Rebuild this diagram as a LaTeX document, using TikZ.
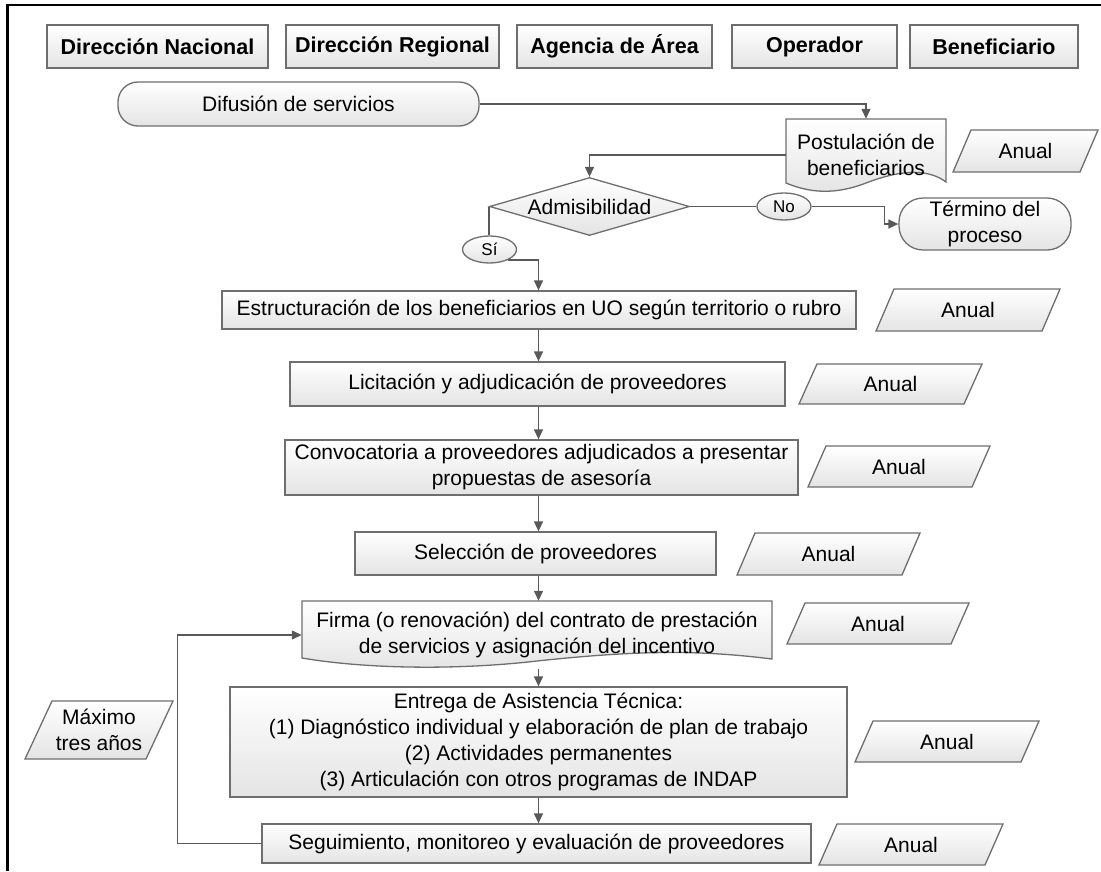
\documentclass[tikz,border=0pt]{standalone}
\usepackage{fontspec}
\setmainfont{Liberation Sans}
\usetikzlibrary{arrows.meta,shapes.geometric,calc}
\definecolor{bord}{HTML}{6E6E6E}
\definecolor{arrc}{HTML}{595959}
\definecolor{fillbot}{HTML}{E4E4E4}
\newcommand{\fsmain}{\fontsize{21}{26}\selectfont}
\newcommand{\fshdr}{\fontsize{21.5}{26}\selectfont\bfseries}
\newcommand{\fssmall}{\fontsize{17}{20}\selectfont}
\newcommand{\anualbox}[5]{%
  \path[shp] (#2,#5) -- ({#2+18},#4) -- (#3,#4) -- ({#3-18},#5) -- cycle;
  \node[txt] (#1) at ({(#2+#3)/2},{(#4+#5)/2}) {Anual};}
\begin{document}
\begin{tikzpicture}[x=1pt,y=-1pt,
  shp/.style={draw=bord, line width=1.3pt, top color=white, bottom color=fillbot},
  box/.style={shp, rectangle, inner sep=0pt, align=center, font=\fsmain},
  txt/.style={inner sep=0pt, align=center, font=\fsmain},
  hdr/.style={box, font=\fshdr, minimum height=43pt},
  arr/.style={draw=arrc, line width=1.3pt, -{Triangle[length=10pt,width=9pt]}},
  ln/.style={draw=arrc, line width=1.3pt},
]
\useasboundingbox (0,0) rectangle (1101,871);
% frame
\draw[line width=2.5pt] (7.5,871) -- (7.5,5) -- (1101,5);

% headers
\node[hdr, minimum width=221pt] (h1) at (157.5,46.5) {Dirección Nacional};
\node[hdr, minimum width=213pt] (h2) at (392.5,46.5) {Dirección Regional};
\node[hdr, minimum width=195pt] (h3) at (614.5,46.5) {Agencia de Área};
\node[hdr, minimum width=165pt] (h4) at (814.5,46.5) {Operador};
\node[hdr, minimum width=168pt] (h5) at (994,46.5) {Beneficiario};

% Difusion
\node[box, rounded corners=20pt, minimum width=361pt, minimum height=44pt] (dif) at (298.5,104) {Difusión de servicios};

% Postulacion (document shape)
\path[shp] (786,119) -- (946,119) -- (946,182) .. controls (930,170) and (905,168) .. (866,183) .. controls (835,195) and (810,193) .. (786,183) -- cycle;
\node[txt, minimum width=160pt, minimum height=72pt] (post) at (866,155) {Postulación de\\beneficiarios};
\anualbox{a1}{953}{1098}{130}{172}

% Admisibilidad
\node[shp, diamond, aspect=3.45, minimum width=200pt, minimum height=58pt, inner sep=0pt, font=\fsmain] (adm) at (589.5,206.5) {Admisibilidad};
\node[shp, ellipse, minimum width=54pt, minimum height=27pt, inner sep=0pt, font=\fssmall] (no) at (784,206.5) {No};
\node[box, rounded corners=24pt, minimum width=172pt, minimum height=52pt] (term) at (985,224) {Término del\\proceso};
\node[shp, ellipse, minimum width=54pt, minimum height=27pt, inner sep=0pt, font=\fssmall] (si) at (489.5,249.5) {Sí};

% main column
\coordinate (axis) at (538.5,0);
\node[box, minimum width=634pt, minimum height=38pt] (estr) at (539,310) {Estructuración de los beneficiarios en UO según territorio o rubro};
\anualbox{a2}{876}{1060}{289}{331}
\node[box, minimum width=495pt, minimum height=44pt] (lic) at (537.5,384) {Licitación y adjudicación de proveedores};
\anualbox{a3}{799}{982}{364}{404}
\node[box, minimum width=513pt, minimum height=55pt] (conv) at (541.5,467.5) {Convocatoria a proveedores adjudicados a presentar\\propuestas de asesoría};
\anualbox{a4}{808}{990}{446}{487}
\node[box, minimum width=361pt, minimum height=43pt] (sel) at (535.5,553.5) {Selección de proveedores};
\anualbox{a5}{737}{920}{533}{575}

% Firma (document shape)
\path[shp] (302,601) -- (772,601) -- (772,659) .. controls (700,650) and (640,650) .. (537,661) .. controls (450,671) and (360,668) .. (302,658) -- cycle;
\node[txt, minimum width=470pt, minimum height=68pt] (firma) at (537,635) {Firma (o renovación) del contrato de prestación\\de servicios y asignación del incentivo};
\anualbox{a6}{787}{969}{603}{644}

\node[box, minimum width=617pt, minimum height=110pt] (entr) at (538.5,742) {Entrega de Asistencia Técnica:\\(1) Diagnóstico individual y elaboración de plan de trabajo\\(2) Actividades permanentes\\(3) Articulación con otros programas de INDAP};
\anualbox{a7}{855}{1039}{721}{762}

\node[box, minimum width=549pt, minimum height=39pt] (seg) at (536.5,843.5) {Seguimiento, monitoreo y evaluación de proveedores};
\anualbox{a8}{819}{1003}{824}{865}

% Maximo tres anos
\path[shp] (25,759) -- (52,701) -- (173,701) -- (146,759) -- cycle;
\node[txt] (max) at (99,730) {Máximo\\tres años};

% connectors
\draw[arr] (dif.east) -| (post.north);
\draw[arr] (post.west) -| (adm.north);
\draw[ln] (adm.east) -- (no.west);
\draw[arr] (no.east) -| ([xshift=-14pt]term.west) -- (term.west);
\draw[ln] (adm.west) -- (adm.west |- si.north);
\draw[arr] (si.-30) -| (axis |- estr.north);
\draw[arr] (axis |- estr.south) -- (axis |- lic.north);
\draw[arr] (axis |- lic.south) -- (axis |- conv.north);
\draw[arr] (axis |- conv.south) -- (axis |- sel.north);
\draw[arr] (axis |- sel.south) -- (axis |- firma.north);
\draw[arr] (axis |- firma.south) -- (axis |- entr.north);
\draw[arr] (axis |- entr.south) -- (axis |- seg.north);
\draw[arr] (seg.west) -- ++(-84,0) |- (firma.west);
\end{tikzpicture}
\end{document}
